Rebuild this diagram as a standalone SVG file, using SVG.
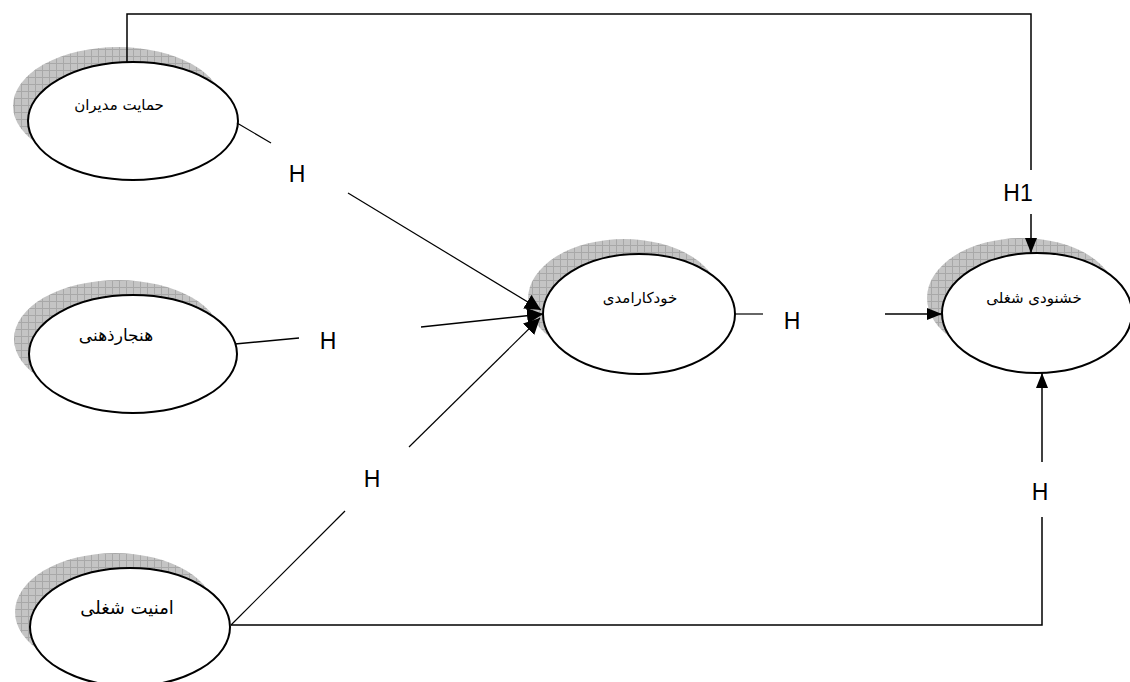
<svg xmlns="http://www.w3.org/2000/svg" width="1130" height="682" viewBox="0 0 1130 682">
  <style>
    .bg { fill: #ffffff; }
    .shadow { fill: url(#hatch); stroke: none; }
    .node { fill: #ffffff; stroke: #000000; stroke-width: 2; }
    .label { font-family: "DejaVu Sans", "Noto Sans", sans-serif; fill: #000000; text-anchor: middle; }
    .h { font-family: "Liberation Sans", Arial, sans-serif; font-size: 23px; fill: #000000; text-anchor: middle; }
    .wire { fill: none; stroke: #000000; stroke-width: 1.5; }
    .thin { fill: none; stroke: #000000; stroke-width: 1.2; }
  </style>
  <defs>
    <pattern id="hatch" patternUnits="userSpaceOnUse" width="7" height="7">
      <rect width="7" height="7" fill="#c4c4c4"/>
      <path d="M0 0.5H7M0.5 0V7" stroke="#a8a8a8" stroke-width="1"/>
    </pattern>
    <marker id="arrow" viewBox="0 0 15 12" refX="15" refY="6" markerWidth="15" markerHeight="12" markerUnits="userSpaceOnUse" orient="auto">
      <path d="M0 0L15 6L0 12Z" fill="#000000"/>
    </marker>
    <marker id="arrow-wide" viewBox="0 0 16 16" refX="16" refY="8" markerWidth="16" markerHeight="16" markerUnits="userSpaceOnUse" orient="auto">
      <path d="M0 0L16 8L0 16Z" fill="#000000"/>
    </marker>
  </defs>

  <rect class="bg" x="0" y="0" width="1130" height="682"/>

  <g id="node-manager-support">
    <ellipse class="shadow" cx="118" cy="106" rx="105" ry="59"/>
    <ellipse class="node" cx="133" cy="121" rx="105" ry="59"/>
    <text class="label" x="119" y="110" font-size="15">حمایت مدیران</text>
  </g>

  <g id="node-subjective-norm">
    <ellipse class="shadow" cx="118" cy="339" rx="104" ry="59"/>
    <ellipse class="node" cx="133" cy="354" rx="104" ry="59"/>
    <text class="label" x="116" y="341" font-size="17">هنجارذهنی</text>
  </g>

  <g id="node-job-security">
    <ellipse class="shadow" cx="115" cy="612" rx="100" ry="59"/>
    <ellipse class="node" cx="130" cy="627" rx="100" ry="59"/>
    <text class="label" x="127" y="614" font-size="18">امنیت شغلی</text>
  </g>

  <g id="node-self-efficacy">
    <ellipse class="shadow" cx="624" cy="299" rx="96" ry="60"/>
    <ellipse class="node" cx="639" cy="314" rx="96" ry="60"/>
    <text class="label" x="640" y="303" font-size="15">خودکارامدی</text>
  </g>

  <g id="node-job-satisfaction">
    <ellipse class="shadow" cx="1022" cy="298" rx="95" ry="60"/>
    <ellipse class="node" cx="1037" cy="313" rx="95" ry="60"/>
    <text class="label" x="1034" y="303" font-size="15">خشنودی شغلی</text>
  </g>

  <!-- connectors, drawn over the node shadows so the arrowheads stay visible -->
  <g id="connectors">
    <!-- top loop: manager support to job satisfaction -->
    <polyline class="wire" points="127,62 127,14 1031,14 1031,170"/>
    <line class="wire" x1="1031" y1="214" x2="1031" y2="253" marker-end="url(#arrow)"/>
    <!-- bottom loop: job security to job satisfaction -->
    <polyline class="wire" points="231,625 1042,625 1042,517"/>
    <line class="wire" x1="1042" y1="462" x2="1042" y2="373" marker-end="url(#arrow)"/>
    <!-- into self-efficacy -->
    <line class="thin" x1="237" y1="123" x2="271" y2="143"/>
    <line class="thin" x1="348" y1="193" x2="541" y2="310" marker-end="url(#arrow-wide)"/>
    <line class="wire" x1="235" y1="344" x2="299" y2="338"/>
    <line class="wire" x1="421" y1="327" x2="543" y2="314" marker-end="url(#arrow-wide)"/>
    <line class="thin" x1="231" y1="625" x2="345" y2="511"/>
    <line class="thin" x1="409" y1="447" x2="540" y2="318" marker-end="url(#arrow-wide)"/>
    <!-- self-efficacy to job satisfaction -->
    <line class="thin" x1="735" y1="314" x2="763" y2="314"/>
    <line class="wire" x1="885" y1="314" x2="942" y2="314" marker-end="url(#arrow)"/>
    <!-- hypothesis labels -->
    <text class="h" x="297" y="182">H</text>
    <text class="h" x="328" y="349">H</text>
    <text class="h" x="372" y="487">H</text>
    <text class="h" x="792" y="329">H</text>
    <text class="h" x="1018" y="201">H1</text>
    <text class="h" x="1040" y="500">H</text>
  </g>
</svg>
